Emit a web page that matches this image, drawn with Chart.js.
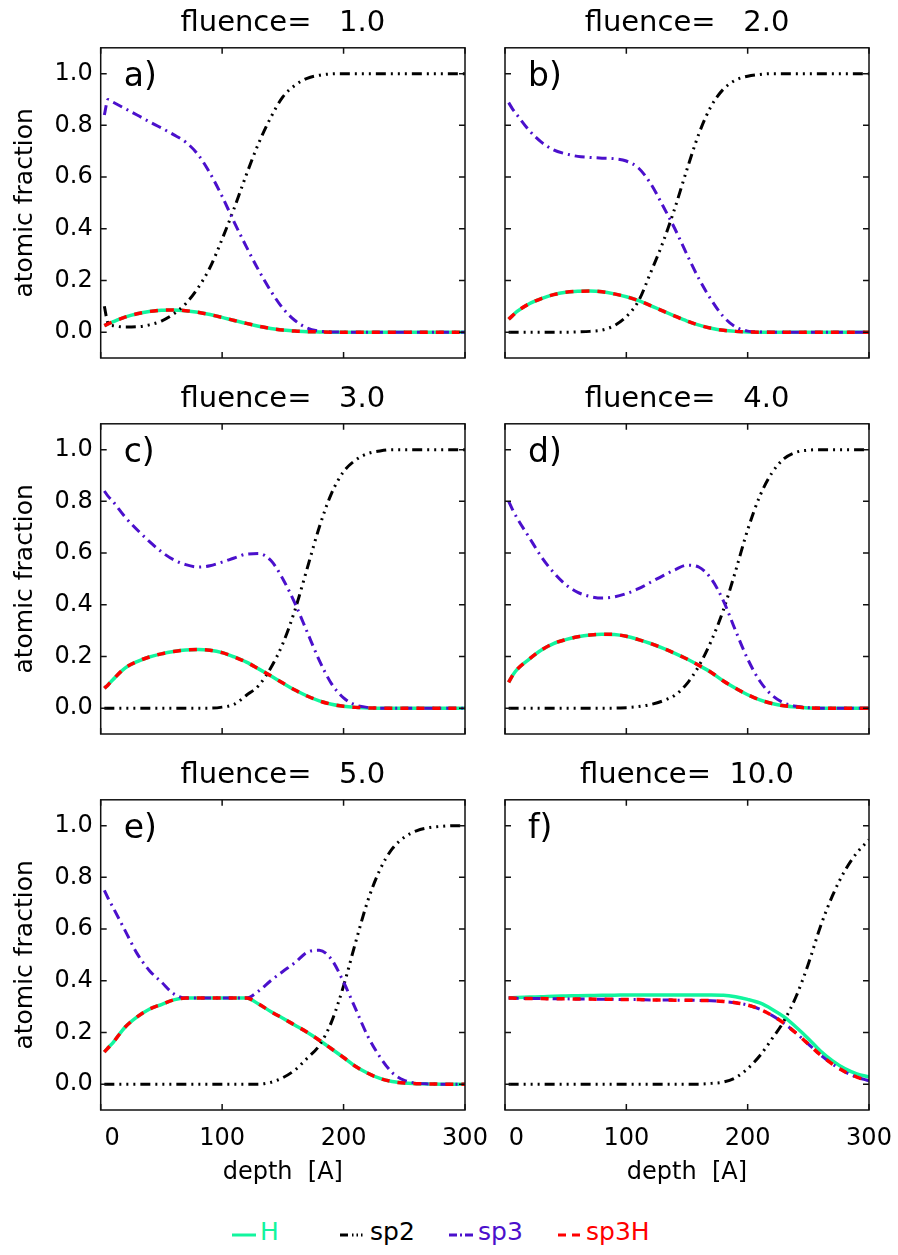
<!DOCTYPE html>
<html>
<head>
<meta charset="utf-8">
<script src="https://cdn.jsdelivr.net/npm/chart.js@4/dist/chart.umd.min.js"></script>
<style>
  body { margin: 0; background: #fff; width: 898px; height: 1255px; position: relative; overflow: hidden; font-family: "DejaVu Sans", sans-serif; }
  canvas { position: absolute; }
  .sample { position: absolute; top: 1232px; height: 6px; }
  .legtext { position: absolute; top: 1216px; font-size: 25px; line-height: 32px; }
</style>
</head>
<body>
<canvas id="pa" width="500" height="362" style="left:0;top:0"></canvas>
<canvas id="pb" width="428" height="362" style="left:470px;top:0"></canvas>
<canvas id="pc" width="500" height="362" style="left:0;top:376px"></canvas>
<canvas id="pd" width="428" height="362" style="left:470px;top:376px"></canvas>
<canvas id="pe" width="500" height="448" style="left:0;top:752px"></canvas>
<canvas id="pf" width="428" height="448" style="left:470px;top:752px"></canvas>

<!-- legend -->
<svg class="sample" style="left:232px" width="24" height="6"><line x1="0" y1="3" x2="24" y2="3" stroke="#12F59E" stroke-width="3"/></svg>
<span class="legtext" style="left:260px;color:#12F59E">H</span>
<svg class="sample" style="left:340px" width="25" height="6"><line x1="0" y1="3" x2="25" y2="3" stroke="#000" stroke-width="3" stroke-dasharray="8 4 1.5 3 1.5 3 1.5 3"/></svg>
<span class="legtext" style="left:370px;color:#000">sp2</span>
<svg class="sample" style="left:449px" width="24" height="6"><line x1="0" y1="3" x2="24" y2="3" stroke="#4B10CC" stroke-width="3" stroke-dasharray="8 3 2 3 8"/></svg>
<span class="legtext" style="left:478px;color:#4B10CC">sp3</span>
<svg class="sample" style="left:558px" width="22" height="6"><line x1="0" y1="3" x2="22" y2="3" stroke="#FF0000" stroke-width="3" stroke-dasharray="8 6 8"/></svg>
<span class="legtext" style="left:586px;color:#FF0000">sp3H</span>

<script>
/* --------------- Data ------------------------------------------- */
const depth = [3, 6, 10, 20, 30, 40, 50, 60, 70, 80, 90, 100, 110, 120, 130, 140, 150,
  160, 170, 180, 190, 200, 210, 220, 230, 240, 250, 260, 270, 280, 290, 300];
const xTicks = [0, 100, 200, 300];
const yTicks = [0, 0.2, 0.4, 0.6, 0.8, 1.0];
const fluences = ["1.0", "2.0", "3.0", "4.0", "5.0", "10.0"];
const tags = ["a)", "b)", "c)", "d)", "e)", "f)"];

// a) fluence 1.0
const hA = [0.025, 0.032, 0.04, 0.058, 0.071, 0.08, 0.085, 0.086, 0.083, 0.077, 0.068, 0.057, 0.045, 0.034, 0.023, 0.014, 0.008,
  0.004, 0.002, 0.001, 0, 0, 0, 0, 0, 0, 0, 0, 0, 0, 0, 0];
const sp2A = [0.10, 0.035, 0.025, 0.02, 0.021, 0.028, 0.043, 0.07, 0.11, 0.17, 0.25, 0.36, 0.48, 0.61, 0.73, 0.83, 0.91,
  0.955, 0.982, 0.994, 0.999, 1, 1, 1, 1, 1, 1, 1, 1, 1, 1, 1];
const sp3A = [0.84, 0.90, 0.89, 0.865, 0.84, 0.814, 0.79, 0.764, 0.735, 0.688, 0.615, 0.525, 0.425, 0.33, 0.24, 0.16, 0.092,
  0.045, 0.016, 0.004, 0.001, 0, 0, 0, 0, 0, 0, 0, 0, 0, 0, 0];
const sp3HA = [0.025, 0.032, 0.04, 0.058, 0.071, 0.08, 0.085, 0.086, 0.083, 0.077, 0.068, 0.057, 0.045, 0.034, 0.023, 0.014, 0.008,
  0.004, 0.002, 0.001, 0, 0, 0, 0, 0, 0, 0, 0, 0, 0, 0, 0];

// b) fluence 2.0
const hB = [0.05, 0.063, 0.08, 0.11, 0.13, 0.145, 0.154, 0.158, 0.159, 0.156, 0.148, 0.137, 0.122, 0.103, 0.082, 0.062, 0.043,
  0.027, 0.015, 0.007, 0.003, 0.001, 0, 0, 0, 0, 0, 0, 0, 0, 0, 0];
const sp2B = [0, 0, 0, 0, 0, 0, 0, 0.001, 0.003, 0.008, 0.025, 0.06, 0.12, 0.23, 0.345, 0.48, 0.63,
  0.77, 0.875, 0.94, 0.975, 0.99, 0.997, 1, 1, 1, 1, 1, 1, 1, 1, 1];
const sp3B = [0.888, 0.865, 0.84, 0.78, 0.735, 0.705, 0.69, 0.68, 0.676, 0.673, 0.671, 0.662, 0.635, 0.575, 0.49, 0.40, 0.30,
  0.205, 0.125, 0.06, 0.02, 0.004, 0.001, 0, 0, 0, 0, 0, 0, 0, 0, 0];
const sp3HB = [0.05, 0.063, 0.08, 0.11, 0.13, 0.145, 0.154, 0.158, 0.159, 0.156, 0.148, 0.137, 0.122, 0.103, 0.082, 0.062, 0.043,
  0.027, 0.015, 0.007, 0.003, 0.001, 0, 0, 0, 0, 0, 0, 0, 0, 0, 0];

// c) fluence 3.0
const hC = [0.077, 0.09, 0.11, 0.155, 0.18, 0.198, 0.21, 0.219, 0.225, 0.227, 0.224, 0.215, 0.198, 0.178, 0.152, 0.125, 0.097,
  0.07, 0.047, 0.028, 0.015, 0.007, 0.003, 0.001, 0, 0, 0, 0, 0, 0, 0, 0];
const sp2C = [0, 0, 0, 0, 0, 0, 0, 0, 0, 0, 0, 0.004, 0.015, 0.05, 0.087, 0.155, 0.25,
  0.38, 0.54, 0.70, 0.83, 0.915, 0.96, 0.985, 0.995, 1, 1, 1, 1, 1, 1, 1];
const sp3C = [0.84, 0.82, 0.80, 0.74, 0.69, 0.645, 0.605, 0.574, 0.555, 0.546, 0.551, 0.565, 0.581, 0.596, 0.598, 0.572, 0.50,
  0.405, 0.295, 0.185, 0.095, 0.04, 0.012, 0.003, 0, 0, 0, 0, 0, 0, 0, 0];
const sp3HC = [0.077, 0.09, 0.11, 0.155, 0.18, 0.198, 0.21, 0.219, 0.225, 0.227, 0.224, 0.215, 0.198, 0.178, 0.152, 0.125, 0.097,
  0.07, 0.047, 0.028, 0.015, 0.007, 0.003, 0.001, 0, 0, 0, 0, 0, 0, 0, 0];

// d) fluence 4.0
const hD = [0.10, 0.125, 0.15, 0.19, 0.225, 0.25, 0.265, 0.276, 0.283, 0.286, 0.285, 0.278, 0.265, 0.25, 0.232, 0.212, 0.19,
  0.165, 0.138, 0.105, 0.077, 0.052, 0.032, 0.018, 0.009, 0.004, 0.001, 0, 0, 0, 0, 0];
const sp2D = [0, 0, 0, 0, 0, 0, 0, 0, 0, 0, 0, 0.002, 0.006, 0.014, 0.028, 0.05, 0.095,
  0.165, 0.26, 0.38, 0.53, 0.69, 0.82, 0.91, 0.965, 0.99, 0.998, 1, 1, 1, 1, 1];
const sp3D = [0.80, 0.77, 0.735, 0.66, 0.585, 0.525, 0.478, 0.448, 0.432, 0.426, 0.43, 0.443, 0.462, 0.487, 0.512, 0.535, 0.553,
  0.545, 0.50, 0.415, 0.30, 0.19, 0.105, 0.05, 0.02, 0.007, 0.002, 0, 0, 0, 0, 0];
const sp3HD = [0.10, 0.125, 0.15, 0.19, 0.225, 0.25, 0.265, 0.276, 0.283, 0.286, 0.285, 0.278, 0.265, 0.25, 0.232, 0.212, 0.19,
  0.165, 0.138, 0.105, 0.077, 0.052, 0.032, 0.018, 0.009, 0.004, 0.001, 0, 0, 0, 0, 0];

// e) fluence 5.0
const hE = [0.124, 0.14, 0.16, 0.22, 0.26, 0.29, 0.308, 0.326, 0.333, 0.333, 0.333, 0.333, 0.333, 0.333, 0.31, 0.281, 0.255,
  0.228, 0.201, 0.17, 0.137, 0.103, 0.068, 0.042, 0.022, 0.01, 0.004, 0.002, 0.001, 0, 0, 0];
const sp2E = [0, 0, 0, 0, 0, 0, 0, 0, 0, 0, 0, 0, 0, 0, 0, 0.007, 0.025,
  0.055, 0.10, 0.15, 0.24, 0.38, 0.55, 0.71, 0.83, 0.91, 0.955, 0.98, 0.992, 0.997, 1, 1];
const sp3E = [0.75, 0.72, 0.685, 0.595, 0.505, 0.44, 0.395, 0.35, 0.333, 0.333, 0.333, 0.333, 0.333, 0.333, 0.36, 0.40, 0.436,
  0.47, 0.51, 0.518, 0.483, 0.395, 0.29, 0.185, 0.105, 0.045, 0.015, 0.004, 0.001, 0, 0, 0];
const sp3HE = [0.124, 0.14, 0.16, 0.22, 0.26, 0.29, 0.308, 0.326, 0.333, 0.333, 0.333, 0.333, 0.333, 0.333, 0.31, 0.281, 0.255,
  0.228, 0.201, 0.17, 0.137, 0.103, 0.068, 0.042, 0.022, 0.01, 0.004, 0.002, 0.001, 0, 0, 0];

// f) fluence 10.0
const hF = [0.333, 0.334, 0.335, 0.337, 0.338, 0.34, 0.341, 0.342, 0.343, 0.344, 0.344, 0.345, 0.345, 0.345, 0.345, 0.345, 0.345,
  0.345, 0.345, 0.344, 0.338, 0.328, 0.314, 0.29, 0.26, 0.22, 0.176, 0.128, 0.09, 0.06, 0.04, 0.028];
const sp2F = [0, 0, 0, 0, 0, 0, 0, 0, 0, 0, 0, 0, 0, 0, 0, 0, 0,
  0, 0.003, 0.008, 0.025, 0.06, 0.11, 0.175, 0.245, 0.34, 0.465, 0.61, 0.73, 0.825, 0.895, 0.945];
const sp3F = [0.333, 0.333, 0.332, 0.331, 0.331, 0.330, 0.330, 0.329, 0.329, 0.328, 0.328, 0.327, 0.327, 0.326, 0.326, 0.325, 0.325,
  0.324, 0.323, 0.32, 0.315, 0.306, 0.29, 0.266, 0.235, 0.197, 0.155, 0.113, 0.077, 0.048, 0.027, 0.013];
const sp3HF = [0.333, 0.333, 0.332, 0.331, 0.331, 0.330, 0.330, 0.329, 0.329, 0.328, 0.328, 0.327, 0.327, 0.326, 0.326, 0.325, 0.325,
  0.324, 0.323, 0.32, 0.315, 0.306, 0.29, 0.266, 0.235, 0.197, 0.155, 0.113, 0.077, 0.048, 0.027, 0.013];

/* --------------- Styles --------------------- */
const FONT = "'DejaVu Sans', sans-serif";
const cH = "#12F59E";
const cSp2 = "#000000";
const cSp3 = "#4B10CC";
const cSp3H = "#FF0000";

/* --------------- Frame with inward ticks + panel tag --------------------- */
const framePlugin = {
  id: "frame",
  afterDatasetsDraw(chart, args, opts) {
    const { ctx, chartArea: { left, right, top, bottom }, scales: { x, y } } = chart;
    ctx.save();
    ctx.strokeStyle = "#111";
    ctx.lineWidth = 1.5;
    ctx.strokeRect(left, top, right - left, bottom - top);
    ctx.beginPath();
    xTicks.forEach((v) => {
      const px = x.getPixelForValue(v);
      ctx.moveTo(px, bottom); ctx.lineTo(px, bottom - 6);
      ctx.moveTo(px, top); ctx.lineTo(px, top + 6);
    });
    yTicks.forEach((v) => {
      const py = y.getPixelForValue(v);
      ctx.moveTo(left, py); ctx.lineTo(left + 6, py);
      ctx.moveTo(right, py); ctx.lineTo(right - 6, py);
    });
    ctx.stroke();
    ctx.fillStyle = "#000";
    ctx.font = "33px " + FONT;
    ctx.textBaseline = "alphabetic";
    ctx.fillText(opts.tag, left + 23, top + 38);
    ctx.restore();
  },
};

const pts = (arr) => depth.map((d, i) => ({ x: d, y: arr[i] }));

function makePanel(id, idx, h, sp2, sp3, sp3H, leftCol, bottomRow) {
  new Chart(document.getElementById(id), {
    type: "line",
    plugins: [framePlugin],
    data: {
      datasets: [
        { label: "H", data: pts(h), borderColor: cH, borderWidth: 3.5, order: 3 },
        { label: "sp2", data: pts(sp2), borderColor: cSp2, borderWidth: 3, borderDash: [10, 5, 2, 5, 2, 5, 2, 5], order: 2 },
        { label: "sp3", data: pts(sp3), borderColor: cSp3, borderWidth: 3, borderDash: [10, 5, 2, 5], order: 1 },
        { label: "sp3H", data: pts(sp3H), borderColor: cSp3H, borderWidth: 3.5, borderDash: [8, 8], order: 0 },
      ],
    },
    options: {
      responsive: false,
      animation: false,
      events: [],
      elements: { point: { radius: 0 }, line: { cubicInterpolationMode: "monotone", fill: false } },
      layout: { padding: { left: 0, right: leftCol ? 35 : 29, top: 0, bottom: 0 } },
      plugins: {
        legend: { display: false },
        tooltip: { enabled: false },
        frame: { tag: tags[idx] },
        title: {
          display: true,
          fullSize: false,
          text: "fluence=" + fluences[idx].padStart(6, " "),
          color: "#000",
          font: { family: FONT, size: 29, weight: "normal" },
          padding: { top: 6, bottom: 7 },
        },
      },
      scales: {
        x: {
          type: "linear",
          min: 0,
          max: 300,
          afterBuildTicks: (s) => { s.ticks = xTicks.map((v) => ({ value: v })); },
          afterFit: (s) => { s.height = bottomRow ? 90 : 4; s.paddingLeft = 0; s.paddingRight = 0; },
          grid: { display: false, drawTicks: false },
          border: { display: false },
          ticks: {
            display: bottomRow,
            autoSkip: false,
            maxRotation: 0,
            padding: 14,
            color: "#000",
            font: { family: FONT, size: 24 },
            callback: (v) => (v === 0 ? "   0" : String(v)),
          },
          title: {
            display: bottomRow,
            text: "depth  [A]",
            color: "#000",
            font: { family: FONT, size: 24 },
            padding: { top: 0, bottom: 13 },
          },
        },
        y: {
          min: -0.1,
          max: 1.1,
          afterBuildTicks: (s) => { s.ticks = yTicks.map((v) => ({ value: v })); },
          afterFit: (s) => { s.width = leftCol ? 100.7 : 35; s.paddingTop = 0; s.paddingBottom = 0; },
          grid: { display: false, drawTicks: false },
          border: { display: false },
          ticks: {
            display: leftCol,
            padding: 8,
            color: "#000",
            font: { family: FONT, size: 24 },
            callback: (v) => v.toFixed(1),
          },
          title: {
            display: leftCol,
            text: "atomic fraction",
            color: "#000",
            font: { family: FONT, size: 25 },
            padding: { top: 10, bottom: 0 },
          },
        },
      },
    },
  });
}

makePanel("pa", 0, hA, sp2A, sp3A, sp3HA, true, false);
makePanel("pb", 1, hB, sp2B, sp3B, sp3HB, false, false);
makePanel("pc", 2, hC, sp2C, sp3C, sp3HC, true, false);
makePanel("pd", 3, hD, sp2D, sp3D, sp3HD, false, false);
makePanel("pe", 4, hE, sp2E, sp3E, sp3HE, true, true);
makePanel("pf", 5, hF, sp2F, sp3F, sp3HF, false, true);
</script>
</body>
</html>
